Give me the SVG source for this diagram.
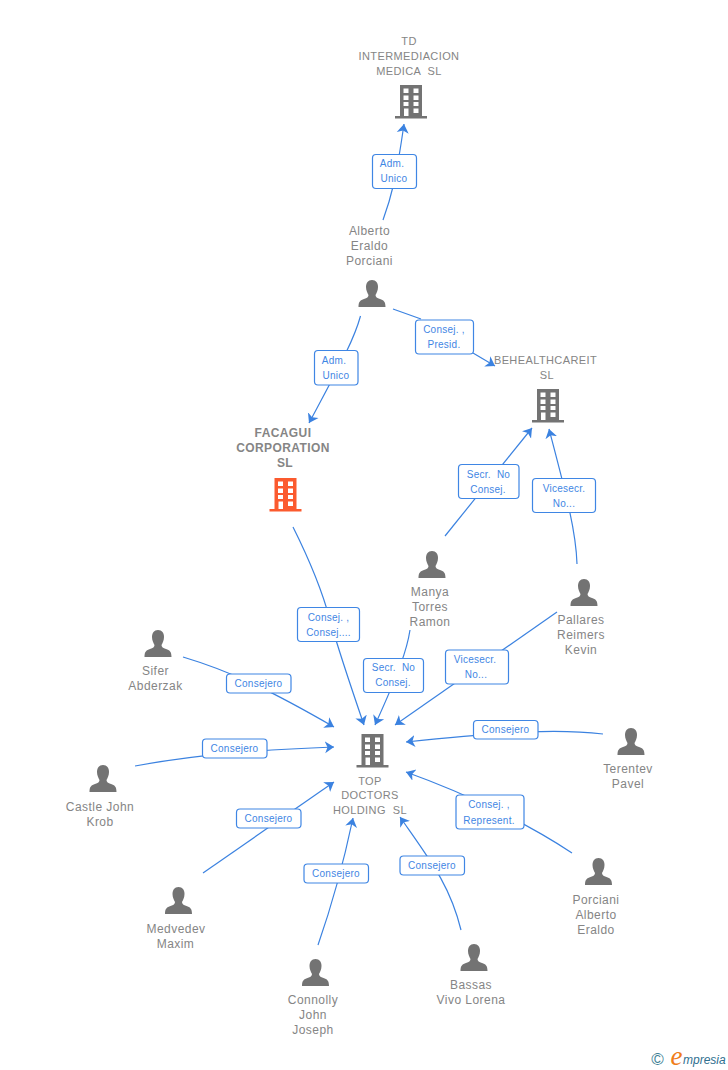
<svg xmlns="http://www.w3.org/2000/svg" width="728" height="1070" viewBox="0 0 728 1070">
<style>
text{font-family:"Liberation Sans",Arial,sans-serif;white-space:pre}
.n{font-size:12px;letter-spacing:.45px;fill:#858585;text-anchor:middle}
.c{font-size:11px;letter-spacing:.4px;fill:#858585;text-anchor:middle}
.f{font-size:12px;letter-spacing:.4px;font-weight:bold;fill:#858585;text-anchor:middle}
.l{font-size:10px;letter-spacing:.25px;fill:#3f86e4;text-anchor:middle}
.b{fill:#fff;stroke:#3f86e4;stroke-width:1.2}
.e{fill:none;stroke:#3b82e0;stroke-width:1.2;marker-end:url(#a)}
</style>
<defs>
<marker id="a" markerUnits="userSpaceOnUse" markerWidth="12" markerHeight="14" refX="9" refY="6.500" orient="auto"><path d="M9,6.500 L0,0.500 L2.500,6.500 L0,12.500Z" fill="#3b82e0"/></marker>
<symbol id="bld" viewBox="0 0 32 34" width="32" height="34" overflow="visible">
<path fill="currentColor" fill-rule="evenodd" d="M5,0H27V31H32V33.500H0V31H5ZM8.500,3.500V8H13.500V3.500ZM18.500,3.500V8H23.500V3.500ZM8.500,10.500V15H13.500V10.500ZM18.500,10.500V15H23.500V10.500ZM8.500,17V21H13.500V17ZM18.500,17V21H23.500V17ZM9,23.500V31H13.500V23.500ZM18.500,23.500V28H23.500V23.500Z"/>
</symbol>
<symbol id="per" viewBox="0 0 28 27" width="28" height="27" overflow="visible">
<path fill="#737373" d="M14,0C18,0 20,3 20,7C20,10.500 18.500,13 17.500,15C17.500,17 19,18 22,19C25.500,20.200 27.500,21.500 27.500,27H0.500C0.500,21.500 2.500,20.200 6,19C9,18 10.500,17 10.500,15C9.500,13 8,10.500 8,7C8,3 10,0 14,0Z"/>
</symbol>
</defs>
<g id="connectors">
<path class="e" d="M383,220C391,198 396,180 404,124"/>
<path class="e" d="M360.500,316C354,340 340,365 309,423"/>
<path class="e" d="M393,309L421,319M473,353L495,366"/>
<path class="e" d="M293,527C312,565 322,590 330,620C340,655 352,690 364,725"/>
<path class="e" d="M445,536L532,428"/>
<path class="e" d="M577,564C576,530 565,490 549,429"/>
<path class="e" d="M410,630C407,650 399,672 375,725"/>
<path class="e" d="M557,612L395,725"/>
<path class="e" d="M603,734C560,729 510,731 406,742"/>
<path class="e" d="M572,853C530,825 470,795 406,772"/>
<path class="e" d="M183,657C230,671 270,690 334,727"/>
<path class="e" d="M135,766C200,754 260,750 334,747"/>
<path class="e" d="M203,873L334,782"/>
<path class="e" d="M318,945C332,905 342,870 353,818"/>
<path class="e" d="M461,930C450,885 430,860 400,817"/>
</g>
<g id="edge-labels">
<g><rect class="b" x="372.500" y="154.500" width="44" height="34" rx="3.500"/><text class="l" x="392" y="167">Adm.</text><text class="l" x="394" y="182">Unico</text></g>
<g><rect class="b" x="314.500" y="350.500" width="43.500" height="34.500" rx="3.500"/><text class="l" x="334" y="364">Adm.</text><text class="l" x="336" y="379">Unico</text></g>
<g><rect class="b" x="415.500" y="320" width="58" height="34" rx="3.500"/><text class="l" x="444" y="333">Consej. ,</text><text class="l" x="444" y="348">Presid.</text></g>
<g><rect class="b" x="458.500" y="464.500" width="60.500" height="34" rx="3.500"/><text class="l" x="488.500" y="477.500">Secr.  No</text><text class="l" x="488" y="492.500">Consej.</text></g>
<g><rect class="b" x="532.500" y="478.500" width="63" height="34" rx="3.500"/><text class="l" x="564" y="492">Vicesecr.</text><text class="l" x="564" y="507">No...</text></g>
<g><rect class="b" x="297.500" y="607.500" width="62" height="34" rx="3.500"/><text class="l" x="328.500" y="621">Consej. ,</text><text class="l" x="328.500" y="636">Consej....</text></g>
<g><rect class="b" x="363.500" y="658.500" width="60" height="34" rx="3.500"/><text class="l" x="393.500" y="671">Secr.  No</text><text class="l" x="393" y="686">Consej.</text></g>
<g><rect class="b" x="445.500" y="650" width="63" height="34" rx="3.500"/><text class="l" x="475" y="663">Vicesecr.</text><text class="l" x="476" y="678">No...</text></g>
<g><rect class="b" x="473.500" y="720.500" width="64.500" height="18.500" rx="3.500"/><text class="l" x="505.500" y="733">Consejero</text></g>
<g><rect class="b" x="456" y="795" width="68" height="34" rx="3.500"/><text class="l" x="489" y="808">Consej. ,</text><text class="l" x="489" y="823.500">Represent.</text></g>
<g><rect class="b" x="226.500" y="674" width="64.500" height="19" rx="3.500"/><text class="l" x="258.500" y="687">Consejero</text></g>
<g><rect class="b" x="202.500" y="739" width="64.500" height="19" rx="3.500"/><text class="l" x="234.500" y="752">Consejero</text></g>
<g><rect class="b" x="236.500" y="809" width="64.500" height="19" rx="3.500"/><text class="l" x="268.500" y="822">Consejero</text></g>
<g><rect class="b" x="304" y="864" width="64.500" height="19" rx="3.500"/><text class="l" x="336" y="877">Consejero</text></g>
<g><rect class="b" x="400" y="856" width="64.500" height="19" rx="3.500"/><text class="l" x="432" y="869">Consejero</text></g>
</g>
<g id="td"><text class="c" x="409" y="45">TD</text><text class="c" x="409" y="60">INTERMEDIACION</text><text class="c" x="409" y="75">MEDICA  SL</text><use href="#bld" x="395" y="85" color="#737373"/></g>
<g id="alberto"><text class="n" x="369.500" y="235">Alberto</text><text class="n" x="369.500" y="250">Eraldo</text><text class="n" x="369.500" y="265">Porciani</text><use href="#per" x="358" y="280"/></g>
<g id="behealth"><text class="c" x="545.500" y="364">BEHEALTHCAREIT</text><text class="c" x="547" y="379">SL</text><use href="#bld" x="532" y="389" color="#737373"/></g>
<g id="facagui"><text class="f" x="283" y="437">FACAGUI</text><text class="f" x="283" y="452">CORPORATION</text><text class="f" x="285" y="467">SL</text><use href="#bld" x="269.500" y="478" color="#fb5a2e"/></g>
<g id="manya"><use href="#per" x="418" y="551"/><text class="n" x="430" y="596">Manya</text><text class="n" x="430" y="611">Torres</text><text class="n" x="430" y="626">Ramon</text></g>
<g id="pallares"><use href="#per" x="570" y="579"/><text class="n" x="581" y="624">Pallares</text><text class="n" x="581" y="639">Reimers</text><text class="n" x="581" y="654">Kevin</text></g>
<g id="sifer"><use href="#per" x="144" y="630"/><text class="n" x="155.500" y="675">Sifer</text><text class="n" x="155.500" y="690">Abderzak</text></g>
<g id="top"><use href="#bld" x="356.500" y="734" color="#737373"/><text class="c" x="370" y="785">TOP</text><text class="c" x="370" y="799">DOCTORS</text><text class="c" x="370" y="814">HOLDING  SL</text></g>
<g id="terentev"><use href="#per" x="617" y="728"/><text class="n" x="628" y="773">Terentev</text><text class="n" x="628" y="788">Pavel</text></g>
<g id="castle"><use href="#per" x="89" y="765"/><text class="n" x="100" y="811">Castle John</text><text class="n" x="100" y="826">Krob</text></g>
<g id="medvedev"><use href="#per" x="164.500" y="887"/><text class="n" x="176" y="933">Medvedev</text><text class="n" x="175.500" y="948">Maxim</text></g>
<g id="porciani"><use href="#per" x="584.500" y="858"/><text class="n" x="596" y="904">Porciani</text><text class="n" x="596" y="919">Alberto</text><text class="n" x="596" y="934">Eraldo</text></g>
<g id="connolly"><use href="#per" x="301.500" y="959"/><text class="n" x="313" y="1004">Connolly</text><text class="n" x="313" y="1019">John</text><text class="n" x="313" y="1034">Joseph</text></g>
<g id="bassas"><use href="#per" x="460" y="944"/><text class="n" x="471" y="989">Bassas</text><text class="n" x="471" y="1004">Vivo Lorena</text></g>
<g id="logo"><text x="657.500" y="1065" font-size="17" fill="#3f7f95" text-anchor="middle">©</text><text x="670.500" y="1065" font-size="27" font-style="italic" fill="#f07d1a" style="font-family:'Liberation Serif',serif">e</text><text x="683" y="1064" font-size="12" font-style="italic" fill="#2f6f8f">mpresia</text></g>
</svg>
